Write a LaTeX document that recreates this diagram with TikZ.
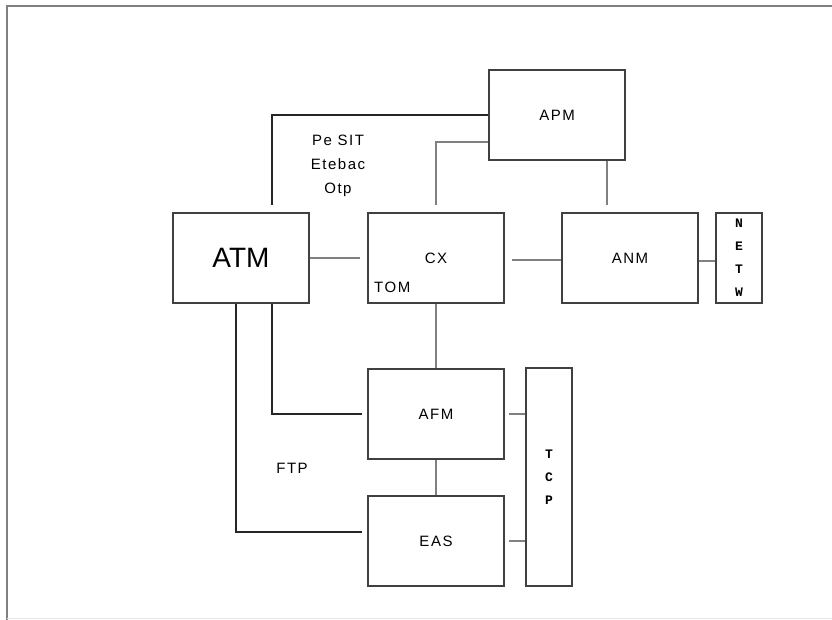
\documentclass[tikz,border=0pt]{standalone}
\usepackage{fontspec}
\setmainfont{Liberation Sans}
\newfontfamily\boxfont[LetterSpace=10]{Liberation Sans}
\newfontfamily\stackfont{Liberation Mono}
\usepackage{tikz}
\usetikzlibrary{positioning, calc}

\begin{document}
\begin{tikzpicture}[
  x=1pt, y=-1pt,
  unit/.style  = {rectangle, draw=black!75, line width=1.8pt,
                  minimum width=136pt, minimum height=90pt,
                  inner sep=0pt, font=\boxfont\fontsize{15}{17}\selectfont},
  slab/.style  = {rectangle, draw=black!75, line width=1.8pt,
                  minimum width=46pt, inner sep=0pt, align=center,
                  font=\stackfont\bfseries\fontsize{13}{23}\selectfont},
  wire/.style  = {draw=black!85, line width=1.1pt},
  pipe/.style  = {draw=black!50, line width=2pt},
  lbl/.style   = {font=\boxfont\fontsize{15}{24}\selectfont, align=center, inner sep=0pt},
  frame/.style = {draw=black!50, line width=2pt},
]
\useasboundingbox (0,0) rectangle (832,620);

%% ── Outer frame ─────────────────────────────────────────────────────────
\draw[frame] (7,620) -- (7,6) -- (832,6);
\draw[black!10, line width=1pt] (7,618.5) -- (832,618.5);

%% ── Upper row ───────────────────────────────────────────────────────────
\node[unit] (apm) at (557,115) {APM};
\node[unit, font=\fontsize{28}{30}\selectfont] (atm) at (241,258) {ATM};
\node[unit] (cx)  at (436,258) {CX};
\node[unit] (anm) at (630,258) {ANM};
\node[slab, minimum height=90pt] (netw) at (739,258) {N\\E\\T\\W};

%% ── Lower column ────────────────────────────────────────────────────────
\node[unit] (afm) at (436,414) {AFM};
\node[unit] (eas) at (436,541) {EAS};
\node[slab, minimum height=218pt] (tcp) at (549,477) {T\\C\\P};

%% ── Links ───────────────────────────────────────────────────────────────
\draw[wire, shorten <=7pt] ([xshift=31pt]atm.north) |- (apm.west);
\draw[pipe, shorten <=7pt] (cx.north) |- ([yshift=-27pt]apm.west);
\draw[pipe, shorten >=7pt] ([xshift=50pt]apm.south) -- ([xshift=50pt]apm.south |- anm.north);
\draw[pipe, shorten >=7pt] (atm.east) -- (cx.west);
\draw[pipe, shorten <=7pt] ([yshift=-2pt]cx.east) -- ([yshift=-2pt]cx.east -| anm.west);
\draw[pipe] ([yshift=-3pt]anm.east) -- ([yshift=-3pt]anm.east -| netw.west);
\draw[pipe] (cx.south) -- (afm.north);
\draw[wire, shorten >=5pt] ([xshift=31pt]atm.south) |- (afm.west);
\draw[wire, shorten >=5pt] ([xshift=-5pt]atm.south) |- ([yshift=9pt]eas.west);
\draw[pipe] (afm.south) -- (eas.north);
\draw[pipe, shorten <=4pt] (afm.east) -- (afm.east -| tcp.west);
\draw[pipe, shorten <=4pt] (eas.east) -- (eas.east -| tcp.west);

%% ── Labels ──────────────────────────────────────────────────────────────
\node[lbl] (proto) at (338,166) {Pe SIT\\Etebac\\Otp};
\node[lbl, anchor=west] (tom) at (374,287) {TOM};
\node[lbl] (ftp) at (292,468) {FTP};

\end{tikzpicture}
\end{document}
